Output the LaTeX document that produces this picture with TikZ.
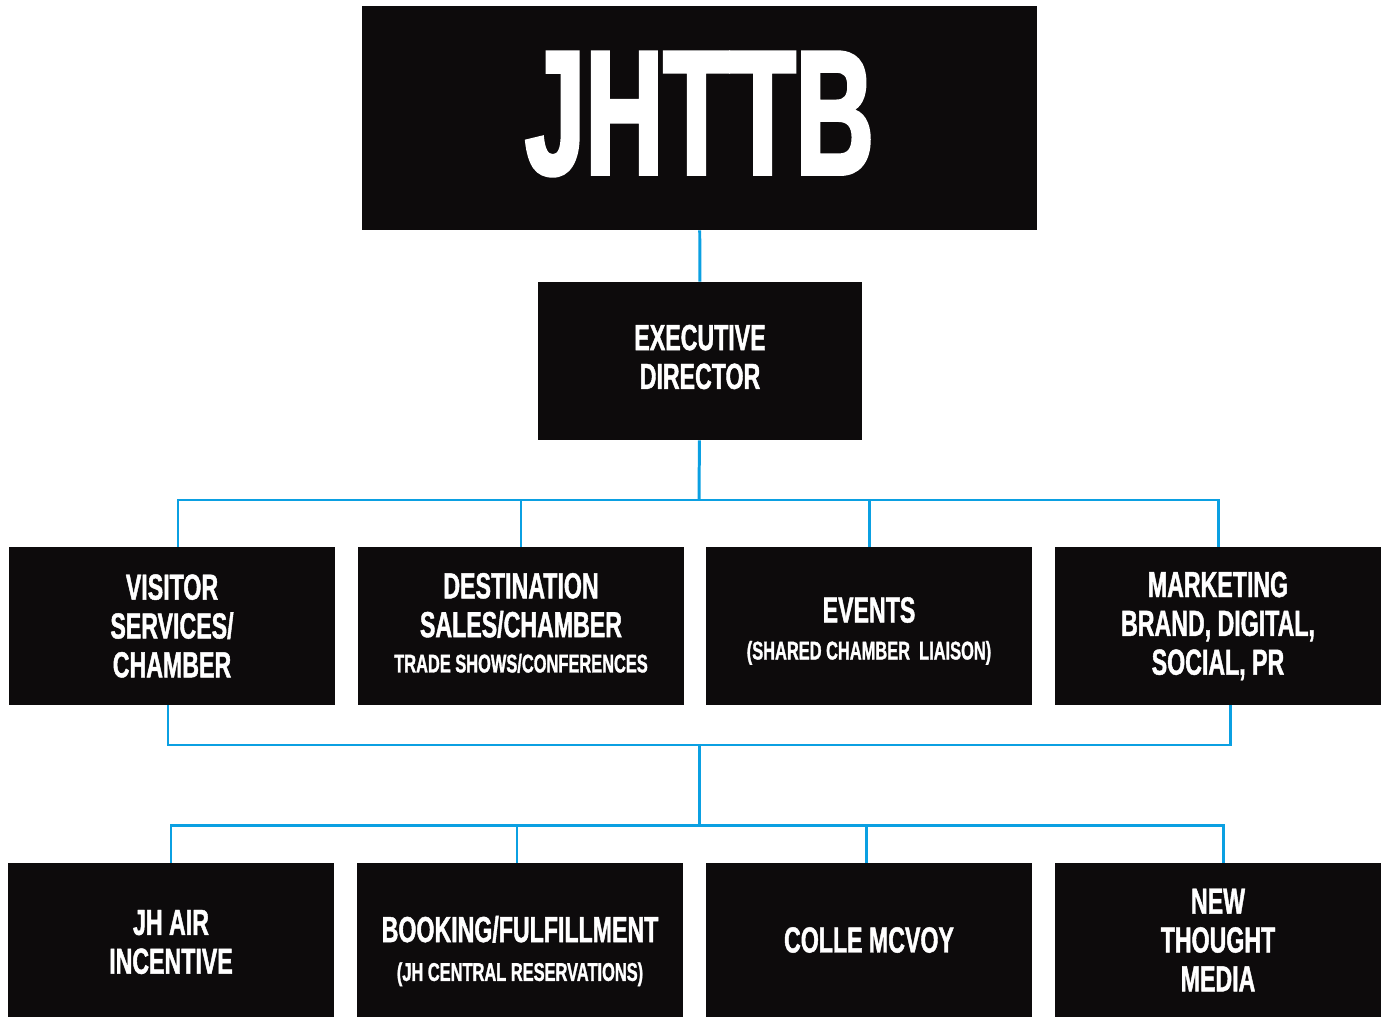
\documentclass[tikz,border=0pt]{standalone}
\usepackage{fontspec}
\newfontfamily\orgfont{Liberation Sans Bold}[FakeStretch=0.64,FakeBold=1.2]
\newfontfamily\titlefont{Liberation Sans Bold}[FakeStretch=0.61,FakeBold=2]
\definecolor{boxblack}{HTML}{0D0B0C}
\definecolor{linkblue}{HTML}{0BA0E2}
\newcommand\pxu{0.02cm}
\tikzset{
  orgbox/.style={fill=boxblack, inner sep=0pt,
    minimum width=326*\pxu, minimum height=158*\pxu},
  lowbox/.style={orgbox, minimum height=154*\pxu},
  boxtext/.style={text=white, inner sep=0pt, align=center,
    font=\orgfont\fontsize{20.6}{22.1}\selectfont},
  link/.style={draw=linkblue, line width=1.7pt},
}
\newcommand\subline[1]{{\fontsize{14.6}{16}\selectfont #1}}
\begin{document}
\begin{tikzpicture}[x=0.02cm, y=-0.02cm]
  \useasboundingbox (0,0) rectangle (1383,1017);

  % top of the chart
  \node[orgbox, minimum width=675*\pxu, minimum height=224*\pxu,
    label={[boxtext, yshift=4*\pxu, font=\titlefont\fontsize{101}{101}\selectfont]center:JHTTB}] (jhttb) at (699.5,118) {};
  \node[orgbox, minimum width=324*\pxu,
    label={[boxtext, yshift=4*\pxu]center:{EXECUTIVE\\DIRECTOR}}] (exec) at (700,361) {};

  % departments
  \node[orgbox, label={[boxtext]center:{VISITOR\\SERVICES/\\CHAMBER}}] (visitor) at (172,626) {};
  \node[orgbox, label={[boxtext, yshift=3*\pxu]center:{DESTINATION\\SALES/CHAMBER\\[-2pt]\subline{TRADE SHOWS/CONFERENCES}}}] (dest) at (521,626) {};
  \node[orgbox, label={[boxtext, yshift=-5*\pxu]center:{EVENTS\\[-1pt]\subline{(SHARED CHAMBER\ \ LIAISON)}}}] (events) at (869,626) {};
  \node[orgbox, label={[boxtext]center:{MARKETING\\BRAND, DIGITAL,\\SOCIAL, PR}}] (mkt) at (1218,626) {};

  % partners
  \node[lowbox, label={[boxtext, yshift=-2*\pxu]center:{JH AIR\\INCENTIVE}}] (air) at (171,940) {};
  \node[lowbox, label={[boxtext, yshift=-11*\pxu]center:{BOOKING/FULFILLMENT\\[0pt]\subline{(JH CENTRAL RESERVATIONS)}}}] (booking) at (520,940) {};
  \node[lowbox, label={[boxtext]center:{COLLE MCVOY}}] (colle) at (869,940) {};
  \node[lowbox, label={[boxtext]center:{NEW\\THOUGHT\\MEDIA}}] (ntm) at (1218,940) {};

  \coordinate (bar1) at (699,500);
  \coordinate (bar2) at (699,745);
  \coordinate (bar3) at (699,825);

  % connectors
  \draw[link] (jhttb) -- (exec);
  \draw[link] (exec) -- (bar1);
  \draw[link] ([xshift=6*\pxu]visitor.north) |- (bar1) -| (mkt.north);
  \draw[link] (dest.north) -- (dest.north |- bar1);
  \draw[link] (events.north) -- (events.north |- bar1);
  \draw[link] ([xshift=-4*\pxu]visitor.south) |- (bar2) -| ([xshift=12*\pxu]mkt.south);
  \draw[link] (bar2) -- (bar3);
  \draw[link] (air.north) |- (bar3) -| ([xshift=5*\pxu]ntm.north);
  \draw[link] ([xshift=-3*\pxu]booking.north) -- ([xshift=-3*\pxu]booking.north |- bar3);
  \draw[link] ([xshift=-3*\pxu]colle.north) -- ([xshift=-3*\pxu]colle.north |- bar3);
\end{tikzpicture}
\end{document}
